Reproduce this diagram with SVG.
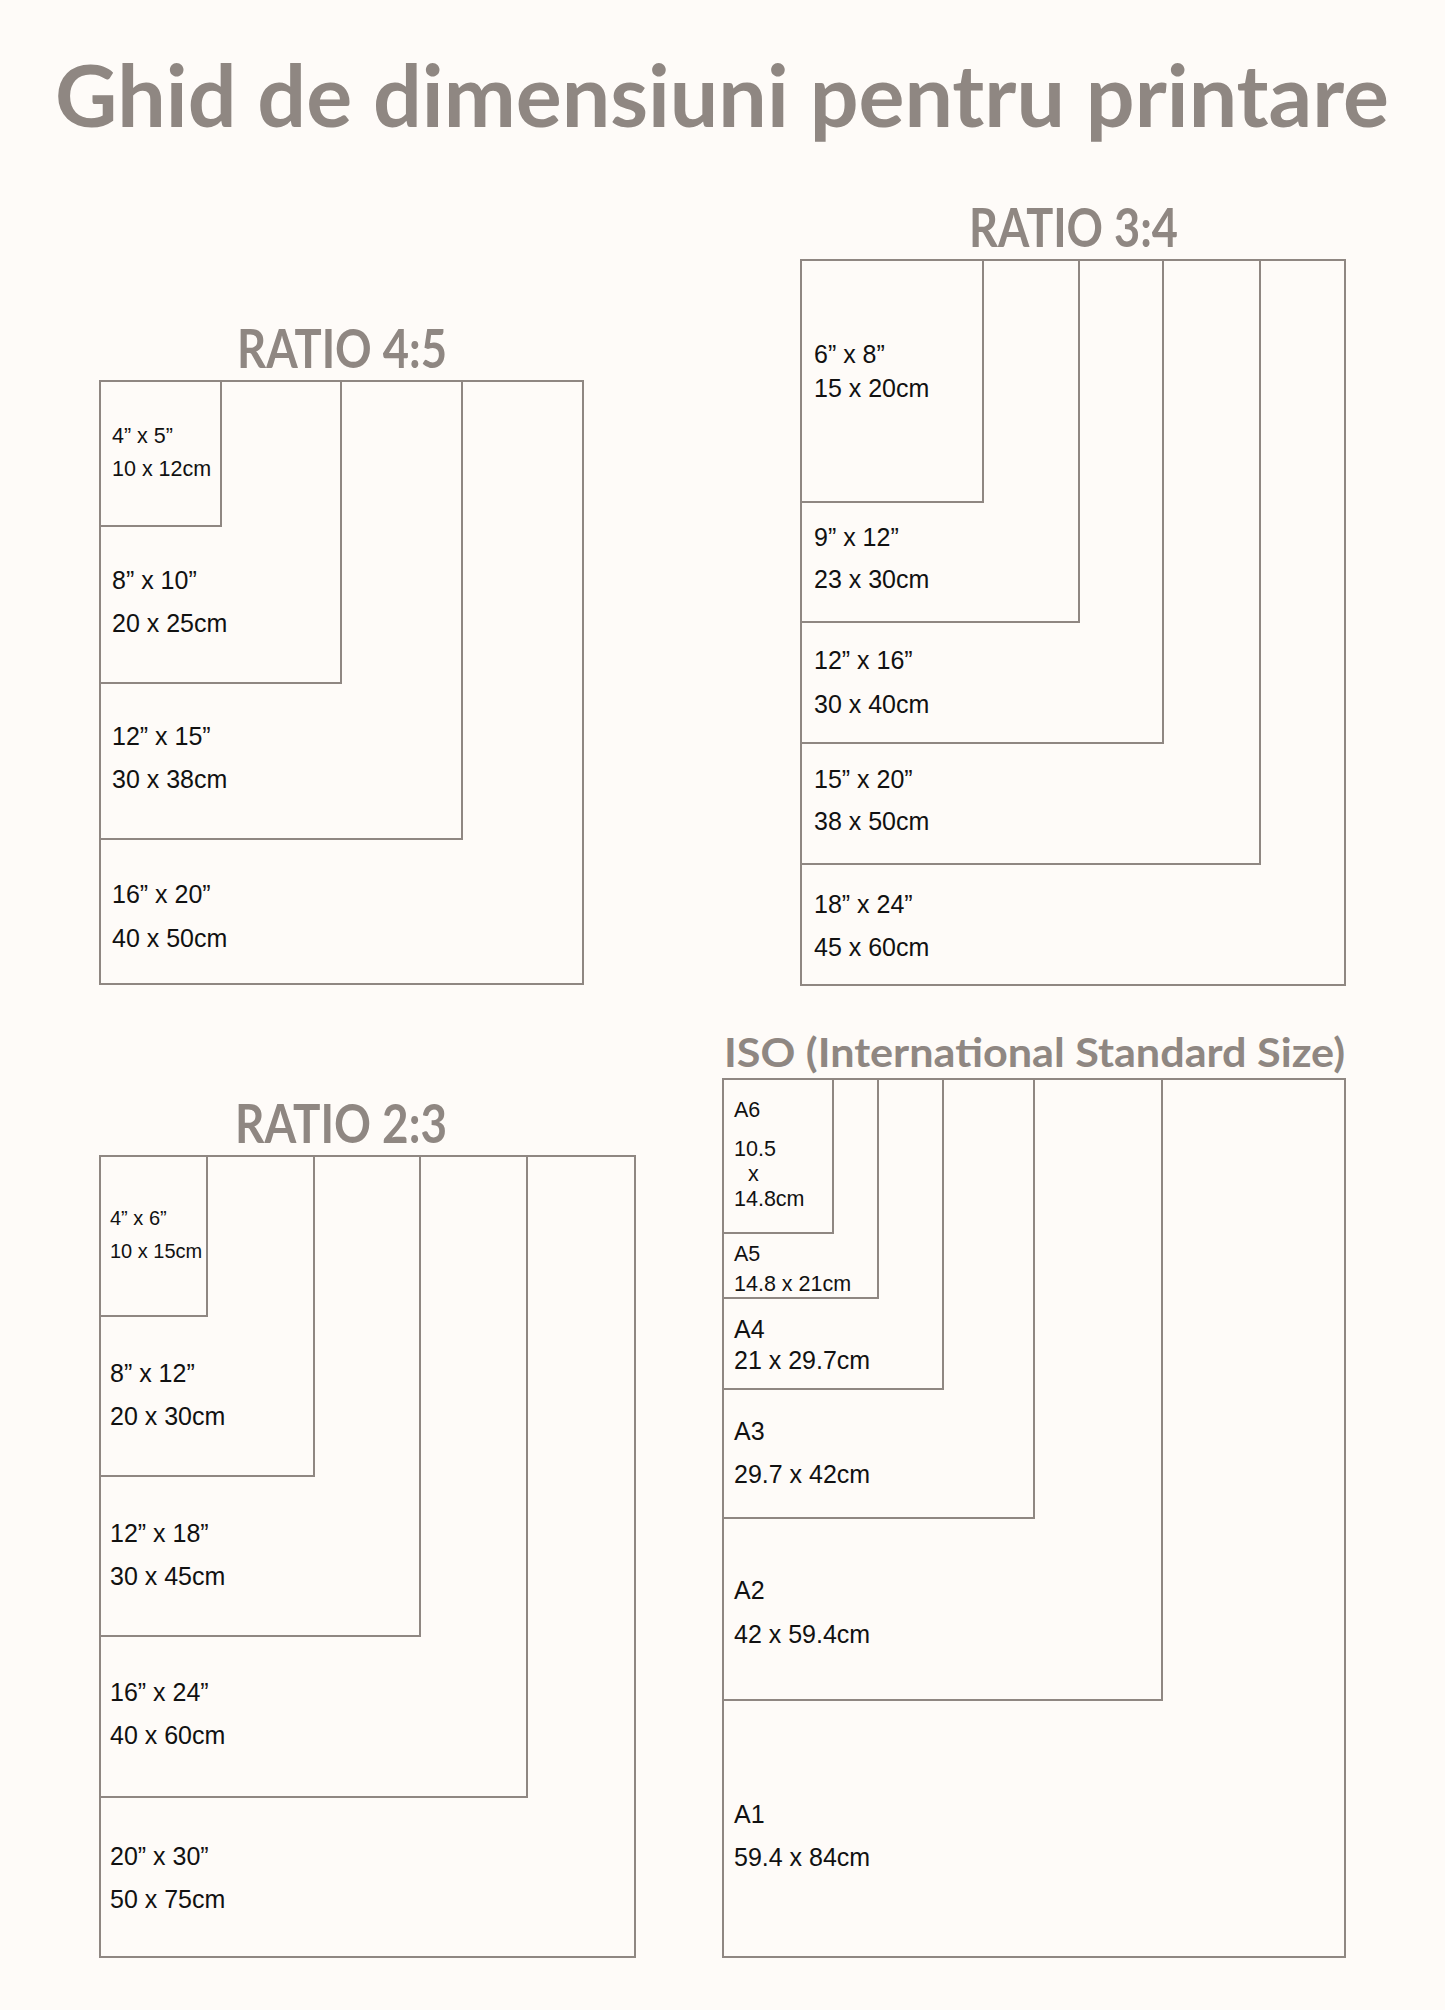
<svg xmlns="http://www.w3.org/2000/svg" width="1445" height="2010" viewBox="0 0 1445 2010">
<style>
.bg{fill:#fefbf8}
.box{fill:none;stroke:#8f8782;stroke-width:2}
.h{font-family:Lato,"Noto Sans","Liberation Sans",sans-serif;fill:#8f8782;font-weight:700}
.t{font-family:"Liberation Sans",Arial,sans-serif;fill:#111;font-size:25px}
.s{font-size:21.5px}
.xs{font-size:20px}
</style>
<rect class="bg" x="0" y="0" width="1445" height="2010"/>
<text class="h" x="55" y="127" font-size="86" textLength="1334" lengthAdjust="spacingAndGlyphs">Ghid de dimensiuni pentru printare</text>

<!-- RATIO 4:5 -->
<text class="h" x="237" y="368" font-size="54" textLength="210" lengthAdjust="spacingAndGlyphs">RATIO 4:5</text>
<g id="r45-16x20"><rect class="box" x="100" y="381" width="483" height="603"/><text class="t" x="112" y="903">16” x 20”</text><text class="t" x="112" y="947">40 x 50cm</text></g>
<g id="r45-12x15"><rect class="box" x="100" y="381" width="362" height="458"/><text class="t" x="112" y="745">12” x 15”</text><text class="t" x="112" y="788">30 x 38cm</text></g>
<g id="r45-8x10"><rect class="box" x="100" y="381" width="241" height="302"/><text class="t" x="112" y="589">8” x 10”</text><text class="t" x="112" y="632">20 x 25cm</text></g>
<g id="r45-4x5"><rect class="box" x="100" y="381" width="121" height="145"/><text class="t s" x="112" y="443">4” x 5”</text><text class="t s" x="112" y="476">10 x 12cm</text></g>

<!-- RATIO 3:4 -->
<text class="h" x="969" y="247" font-size="54" textLength="209" lengthAdjust="spacingAndGlyphs">RATIO 3:4</text>
<g id="r34-18x24"><rect class="box" x="801" y="260" width="544" height="725"/><text class="t" x="814" y="913">18” x 24”</text><text class="t" x="814" y="956">45 x 60cm</text></g>
<g id="r34-15x20"><rect class="box" x="801" y="260" width="459" height="604"/><text class="t" x="814" y="788">15” x 20”</text><text class="t" x="814" y="830">38 x 50cm</text></g>
<g id="r34-12x16"><rect class="box" x="801" y="260" width="362" height="483"/><text class="t" x="814" y="669">12” x 16”</text><text class="t" x="814" y="713">30 x 40cm</text></g>
<g id="r34-9x12"><rect class="box" x="801" y="260" width="278" height="362"/><text class="t" x="814" y="546">9” x 12”</text><text class="t" x="814" y="588">23 x 30cm</text></g>
<g id="r34-6x8"><rect class="box" x="801" y="260" width="182" height="242"/><text class="t" x="814" y="363" font-size="24">6” x 8”</text><text class="t" x="814" y="397" font-size="24">15 x 20cm</text></g>

<!-- RATIO 2:3 -->
<text class="h" x="235" y="1143" font-size="54" textLength="212" lengthAdjust="spacingAndGlyphs">RATIO 2:3</text>
<g id="r23-20x30"><rect class="box" x="100" y="1156" width="535" height="801"/><text class="t" x="110" y="1865">20” x 30”</text><text class="t" x="110" y="1908">50 x 75cm</text></g>
<g id="r23-16x24"><rect class="box" x="100" y="1156" width="427" height="641"/><text class="t" x="110" y="1701">16” x 24”</text><text class="t" x="110" y="1744">40 x 60cm</text></g>
<g id="r23-12x18"><rect class="box" x="100" y="1156" width="320" height="480"/><text class="t" x="110" y="1542">12” x 18”</text><text class="t" x="110" y="1585">30 x 45cm</text></g>
<g id="r23-8x12"><rect class="box" x="100" y="1156" width="214" height="320"/><text class="t" x="110" y="1382">8” x 12”</text><text class="t" x="110" y="1425">20 x 30cm</text></g>
<g id="r23-4x6"><rect class="box" x="100" y="1156" width="107" height="160"/><text class="t xs" x="110" y="1225">4” x 6”</text><text class="t xs" x="110" y="1258">10 x 15cm</text></g>

<!-- ISO -->
<text class="h" x="724" y="1067" font-size="41" font-weight="600" textLength="621" lengthAdjust="spacingAndGlyphs">ISO (International Standard Size)</text>
<g id="iso-a1"><rect class="box" x="723" y="1079" width="622" height="878"/><text class="t" x="734" y="1823">A1</text><text class="t" x="734" y="1866">59.4 x 84cm</text></g>
<g id="iso-a2"><rect class="box" x="723" y="1079" width="439" height="621"/><text class="t" x="734" y="1599">A2</text><text class="t" x="734" y="1643">42 x 59.4cm</text></g>
<g id="iso-a3"><rect class="box" x="723" y="1079" width="311" height="439"/><text class="t" x="734" y="1440">A3</text><text class="t" x="734" y="1483">29.7 x 42cm</text></g>
<g id="iso-a4"><rect class="box" x="723" y="1079" width="220" height="310"/><text class="t" x="734" y="1338" font-size="24">A4</text><text class="t" x="734" y="1369" font-size="24">21 x 29.7cm</text></g>
<g id="iso-a5"><rect class="box" x="723" y="1079" width="155" height="219"/><text class="t s" x="734" y="1261">A5</text><text class="t s" x="734" y="1291">14.8 x 21cm</text></g>
<g id="iso-a6"><rect class="box" x="723" y="1079" width="110" height="154"/><text class="t s" x="734" y="1117">A6</text><text class="t s" x="734" y="1156">10.5</text><text class="t s" x="748" y="1181">x</text><text class="t s" x="734" y="1206">14.8cm</text></g>

<g id="connectors"/>
</svg>
